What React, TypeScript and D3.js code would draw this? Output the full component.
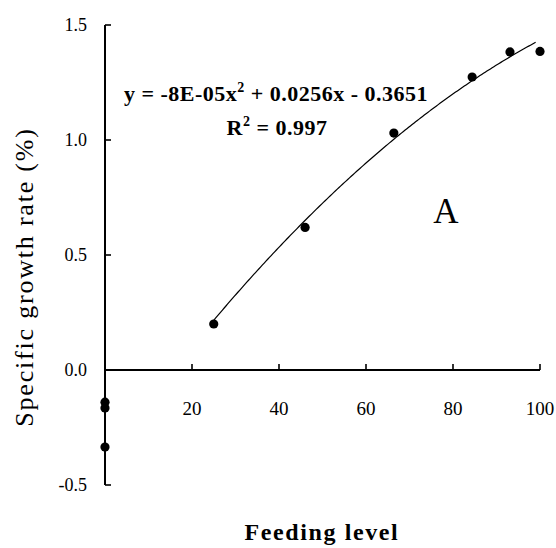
import React from "react";
import * as d3 from "d3";

const feedingLevel = [0, 0, 0, 25, 46, 66.4, 84.4, 93.1, 100];
const growthRate = [-0.14, -0.165, -0.335, 0.2, 0.62, 1.03, 1.274, 1.383, 1.385];
const xTicks = [20, 40, 60, 80, 100];
const yTicks = [-0.5, 0.0, 0.5, 1.0, 1.5];
// trendline (quadratic) as drawn on the chart
const trendCoef = [-0.000082, 0.0265, -0.395];
const trendRange = [25, 99.2];
const equationText = "y = -8E-05x";
const equationRest = " + 0.0256x - 0.3651";
const r2Value = " = 0.997";

export default function App() {
  const W = 556, H = 548;
  const x = d3.scaleLinear().domain([0, 100]).range([105, 540]);
  const y = d3.scaleLinear().domain([-0.5, 1.5]).range([485, 25]);

  const [a, b, c] = trendCoef;
  const xs = d3.range(trendRange[0], trendRange[1] + 0.01, 0.4);
  const line = d3
    .line<number>()
    .x((v) => x(v))
    .y((v) => y(a * v * v + b * v + c));

  const serif = "'Liberation Serif', 'Times New Roman', serif";
  const tick = 6;

  return (
    <svg
      width={W}
      height={H}
      style={{ position: "absolute", left: 0, top: 0, background: "#fff" }}
      fontFamily={serif}
    >
      <rect width={W} height={H} fill="#fff" />
      {/* axes */}
      <line x1={x(0)} x2={x(0)} y1={y(1.5)} y2={y(-0.5)} stroke="#000" strokeWidth={2} />
      <line x1={x(0)} x2={x(100)} y1={y(0)} y2={y(0)} stroke="#000" strokeWidth={2} />
      {yTicks.map((t) => (
        <g key={"y" + t}>
          <line x1={x(0)} x2={x(0) + tick} y1={y(t)} y2={y(t)} stroke="#000" strokeWidth={1.6} />
          <text
            x={87}
            y={y(t)}
            dy="0.35em"
            textAnchor="end"
            fontSize={18}
            fill="#000"
          >
            {t.toFixed(1)}
          </text>
        </g>
      ))}
      {xTicks.map((t) => (
        <g key={"x" + t}>
          <line x1={x(t)} x2={x(t)} y1={y(0)} y2={y(0) - tick} stroke="#000" strokeWidth={1.6} />
          <text x={x(t)} y={415} textAnchor="middle" fontSize={19} fill="#000">
            {t}
          </text>
        </g>
      ))}
      {/* fitted curve */}
      <path d={line(xs) || ""} fill="none" stroke="#000" strokeWidth={1.2} />
      {/* points */}
      {feedingLevel.map((fx, i) => (
        <circle key={i} cx={x(fx)} cy={y(growthRate[i])} r={4.6} fill="#000" />
      ))}
      {/* equation */}
      <text x={276} y={101} textAnchor="middle" fontSize={22} fontWeight="bold" letterSpacing={0.5} fill="#000">
        {equationText}
        <tspan dy={-9} fontSize={14}>2</tspan>
        <tspan dy={9}>{equationRest}</tspan>
      </text>
      <text x={277} y={135} textAnchor="middle" fontSize={22} fontWeight="bold" letterSpacing={0.5} fill="#000">
        R<tspan dy={-9} fontSize={14}>2</tspan>
        <tspan dy={9}>{r2Value}</tspan>
      </text>
      <text x={446} y={223} textAnchor="middle" fontSize={35} fill="#000">
        A
      </text>
      {/* axis titles */}
      <text
        transform={`translate(33, ${y(0.5) + 22}) rotate(-90)`}
        textAnchor="middle"
        fontSize={26}
        letterSpacing={1.8}
        fill="#000"
      >
        Specific growth rate (%)
      </text>
      <text x={322} y={540} textAnchor="middle" fontSize={24} fontWeight="bold" letterSpacing={1.6} fill="#000">
        Feeding level
      </text>
    </svg>
  );
}
